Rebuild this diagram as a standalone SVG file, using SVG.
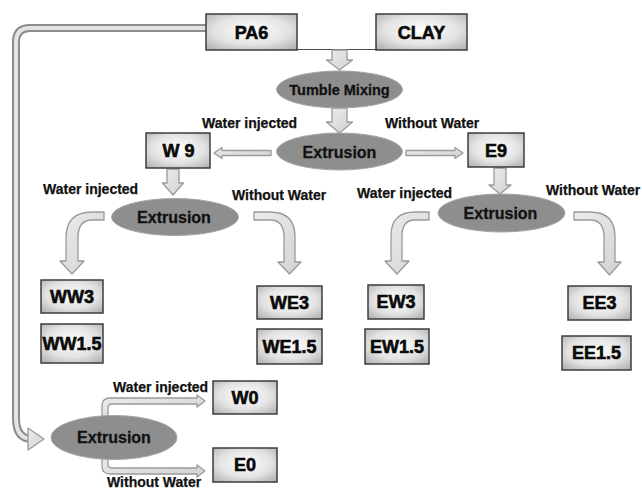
<svg xmlns="http://www.w3.org/2000/svg" width="642" height="491" viewBox="0 0 642 491">
<defs>
<radialGradient id="boxg" cx="50%" cy="45%" r="75%">
<stop offset="0" stop-color="#ffffff"/>
<stop offset="0.55" stop-color="#e2e2e2"/>
<stop offset="1" stop-color="#a9a9a9"/>
</radialGradient>
<linearGradient id="arrg" x1="0" y1="0" x2="1" y2="1">
<stop offset="0" stop-color="#ececec"/>
<stop offset="1" stop-color="#d2d2d2"/>
</linearGradient>
<style>
.box{fill:url(#boxg);stroke:#3c3c3c;stroke-width:1.5}
.bt{font-family:"Liberation Sans",Arial,sans-serif;font-weight:bold;font-size:18px;fill:#0a0a0a;stroke:#0a0a0a;stroke-width:0.6;text-anchor:middle}
.ell{fill:#8e8e8e;stroke:#a4a4a4;stroke-width:1}
.et{font-family:"Liberation Sans",Arial,sans-serif;font-weight:bold;font-size:16px;fill:#111;stroke:#111;stroke-width:0.3;text-anchor:middle}
.lab{font-family:"Liberation Sans",Arial,sans-serif;font-weight:bold;font-size:14px;fill:#111;stroke:#111;stroke-width:0.25}
.arr{fill:url(#arrg);stroke:#9a9a9a;stroke-width:1.3;stroke-linejoin:round}
.loopo{fill:none;stroke:#8c8c8c;stroke-width:8}
.loopi{fill:none;stroke:#e4e4e4;stroke-width:4}
</style>
</defs>
<rect width="642" height="491" fill="#ffffff"/>

<g id="connectors">
<path class="loopo" d="M206,28 L30,28 Q16,28 16,42 L16,418 Q16,439 32,439"/>
<path class="loopi" d="M206,28 L30,28 Q16,28 16,42 L16,418 Q16,439 32,439"/>
<polygon class="arr" points="28,428 44,439 28,450"/>
<line x1="297" y1="49.5" x2="376" y2="49.5" stroke="#4a4a4a" stroke-width="1.2"/>
<path class="arr" d="M332,50 L347,50 L347,60 L352.5,60 L339.5,70 L326.5,60 L332,60 Z"/>
<path class="arr" d="M332,108 L347,108 L347,122 L352.5,122 L339.5,133 L326.5,122 L332,122 Z"/>
<path class="arr" d="M167,169 L179,169 L179,183 L183.5,183 L173,195 L162.5,183 L167,183 Z"/>
<path class="arr" d="M494,168 L506,168 L506,185 L511,185 L500,194 L489,185 L494,185 Z"/>
<path class="arr" d="M214,153 L222,147.5 L222,150.5 L271,150.5 L271,155.5 L222,155.5 L222,158.5 Z"/>
<path class="arr" d="M463,153 L455,147.5 L455,150.5 L406,150.5 L406,155.5 L455,155.5 L455,158.5 Z"/>
<path class="arr" d="M104,212 L92,212 Q66,212 66,238 L66,261 L60,261 L72,274 L84,261 L78,261 L78,238 Q78,220 92,220 L104,220 Z"/>
<path class="arr" d="M254,212 L270,212 Q295,212 295,237 L295,262 L301,262 L289.5,274 L278,262 L284,262 L284,237 Q284,220 270,220 L254,220 Z"/>
<path class="arr" d="M429,212 L415,212 Q391,212 391,236 L391,261 L385,261 L397,274 L409,261 L402,261 L402,236 Q402,220 415,220 L429,220 Z"/>
<path class="arr" d="M574,212 L590,212 Q615,212 615,237 L615,262 L621,262 L609.5,275 L598,262 L604,262 L604,237 Q604,220 590,220 L574,220 Z"/>
<path class="arr" d="M102,420 L102,406 Q102,398 110,398 L197,398 L197,395 L205,401 L197,407 L197,404 L112,404 Q108,404 108,408 L108,420 Z"/>
<path class="arr" d="M102,455 L102,466 Q102,474 110,474 L197,474 L197,477 L205,471 L197,465 L197,468 L112,468 Q108,468 108,464 L108,455 Z"/>
</g>

<g id="labels">
<text class="lab" x="202" y="127.5">Water injected</text>
<text class="lab" x="385" y="127.5">Without Water</text>
<text class="lab" x="43" y="194">Water injected</text>
<text class="lab" x="232" y="200">Without Water</text>
<text class="lab" x="357" y="197.5">Water injected</text>
<text class="lab" x="546" y="195">Without Water</text>
<text class="lab" x="113" y="392">Water injected</text>
<text class="lab" x="107" y="487">Without Water</text>
</g>

<g id="PA6"><rect class="box" x="206" y="14" width="91" height="36"/><text class="bt" x="251.5" y="38.5">PA6</text></g>
<g id="CLAY"><rect class="box" x="376" y="14" width="91" height="36"/><text class="bt" x="421.5" y="38.5">CLAY</text></g>
<g id="tumble"><ellipse class="ell" cx="339.5" cy="89.5" rx="63" ry="18.5"/><text class="et" x="339.5" y="95" style="font-size:14.5px">Tumble Mixing</text></g>
<g id="extrusion1"><ellipse class="ell" cx="339.5" cy="151.5" rx="63" ry="18.5"/><text class="et" x="339.5" y="157.5">Extrusion</text></g>
<g id="W9"><rect class="box" x="146" y="133" width="64" height="35"/><text class="bt" x="178.5" y="157">W 9</text></g>
<g id="E9"><rect class="box" x="468" y="133" width="56" height="34"/><text class="bt" x="496" y="156.5">E9</text></g>
<g id="extrusion2"><ellipse class="ell" cx="175" cy="217" rx="63.5" ry="18.5"/><text class="et" x="174" y="222.5">Extrusion</text></g>
<g id="extrusion3"><ellipse class="ell" cx="501.5" cy="213" rx="63.5" ry="19"/><text class="et" x="500.5" y="219">Extrusion</text></g>
<g id="WW3"><rect class="box" x="41" y="280" width="62" height="33"/><text class="bt" x="72" y="302.5">WW3</text></g>
<g id="WW1.5"><rect class="box" x="41" y="324" width="62" height="39"/><text class="bt" x="72" y="349.5">WW1.5</text></g>
<g id="WE3"><rect class="box" x="257" y="286" width="65" height="33"/><text class="bt" x="289.5" y="308.5">WE3</text></g>
<g id="WE1.5"><rect class="box" x="257" y="329" width="65" height="35"/><text class="bt" x="289.5" y="352.5">WE1.5</text></g>
<g id="EW3"><rect class="box" x="368" y="285" width="56" height="34"/><text class="bt" x="396" y="308">EW3</text></g>
<g id="EW1.5"><rect class="box" x="365" y="329" width="64" height="35"/><text class="bt" x="397" y="352.5">EW1.5</text></g>
<g id="EE3"><rect class="box" x="568" y="286" width="63" height="34"/><text class="bt" x="599.5" y="309">EE3</text></g>
<g id="EE1.5"><rect class="box" x="562" y="336" width="69" height="34"/><text class="bt" x="596.5" y="359">EE1.5</text></g>
<g id="extrusion4"><ellipse class="ell" cx="114" cy="437.5" rx="63" ry="22"/><text class="et" x="114" y="443">Extrusion</text></g>
<g id="W0"><rect class="box" x="213" y="381" width="64" height="33"/><text class="bt" x="245" y="403.5">W0</text></g>
<g id="E0"><rect class="box" x="213" y="448" width="64" height="34"/><text class="bt" x="245" y="471">E0</text></g>
</svg>
